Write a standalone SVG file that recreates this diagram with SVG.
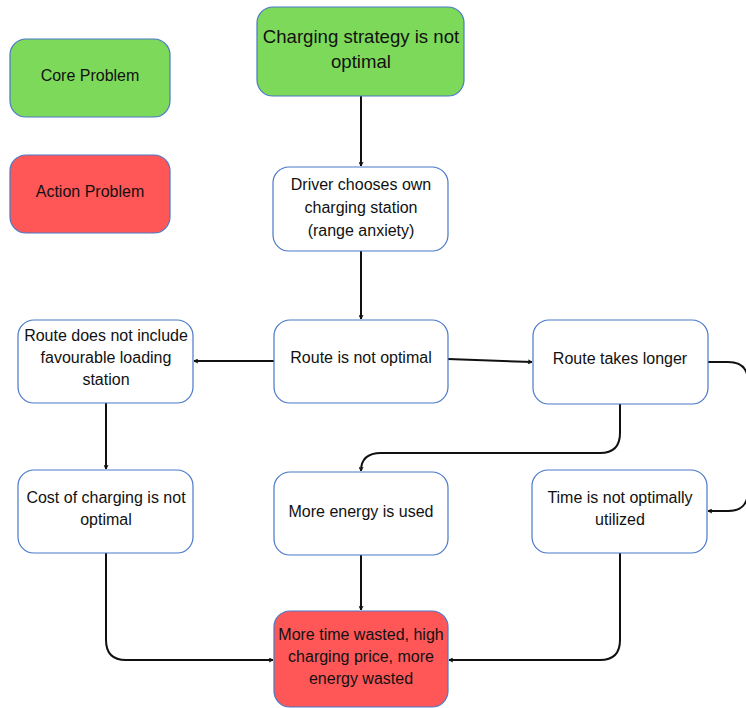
<svg xmlns="http://www.w3.org/2000/svg" width="746" height="708" viewBox="0 0 746 708">
<style>
.box{stroke:#4a78c8;stroke-width:1.2}
.w{fill:#ffffff}.g{fill:#7dd95a}.r{fill:#ff5757}
text{font-family:"Liberation Sans",Arial,sans-serif;font-size:16px;fill:#111;text-anchor:middle}
.big{font-size:18.6px}
.c{fill:none;stroke:#111;stroke-width:2}
</style>
<defs>
<marker id="a" viewBox="0 0 10 10" refX="9" refY="5" markerWidth="5" markerHeight="5" orient="auto" markerUnits="userSpaceOnUse">
<path d="M1,1 L9,5 L1,9" fill="none" stroke="#111" stroke-width="2"/>
</marker>
</defs>
<rect width="746" height="708" fill="#fff"/>
<g id="connectors">
<path class="c" d="M361,96 V166" marker-end="url(#a)"/>
<path class="c" d="M361,251 V319" marker-end="url(#a)"/>
<path class="c" d="M274,361 H194" marker-end="url(#a)"/>
<path class="c" d="M448,359 L532,362" marker-end="url(#a)"/>
<path class="c" d="M620,404 V433 Q620,453 600,453 H381 Q361,453 361,471" marker-end="url(#a)"/>
<path class="c" d="M708,362 H728 Q748,362 748,382 V491 Q748,511 728,511 H708" marker-end="url(#a)"/>
<path class="c" d="M106,403 V469" marker-end="url(#a)"/>
<path class="c" d="M361,555 V610" marker-end="url(#a)"/>
<path class="c" d="M106,553 V640 Q106,660 126,660 H273" marker-end="url(#a)"/>
<path class="c" d="M620,553 V640 Q620,660 600,660 H449" marker-end="url(#a)"/>
</g>
<g id="legend-core"><rect class="box g" x="10" y="39" width="160" height="78" rx="16"/><text x="90" y="81">Core Problem</text></g>
<g id="legend-action"><rect class="box r" x="10" y="155" width="160" height="78" rx="16"/><text x="90" y="197">Action Problem</text></g>
<g id="n-top"><rect class="box g" x="257" y="7" width="207" height="89" rx="16"/><text class="big" x="361" y="43">Charging strategy is not</text><text class="big" x="361" y="68">optimal</text></g>
<g id="n-driver"><rect class="box w" x="273" y="167" width="175" height="84" rx="16"/><text x="361" y="190">Driver chooses own</text><text x="361" y="213">charging station</text><text x="361" y="236">(range anxiety)</text></g>
<g id="n-route"><rect class="box w" x="274" y="320" width="174" height="83" rx="16"/><text x="361" y="363">Route is not optimal</text></g>
<g id="n-include"><rect class="box w" x="18" y="320" width="175" height="83" rx="16"/><text x="106" y="341">Route does not include</text><text x="106" y="363">favourable loading</text><text x="106" y="385">station</text></g>
<g id="n-longer"><rect class="box w" x="533" y="320" width="175" height="84" rx="16"/><text x="620" y="364">Route takes longer</text></g>
<g id="n-cost"><rect class="box w" x="18" y="470" width="175" height="83" rx="16"/><text x="106" y="503">Cost of charging is not</text><text x="106" y="525">optimal</text></g>
<g id="n-energy"><rect class="box w" x="274" y="472" width="174" height="83" rx="16"/><text x="361" y="517">More energy is used</text></g>
<g id="n-time"><rect class="box w" x="532" y="470" width="175" height="83" rx="16"/><text x="620" y="503">Time is not optimally</text><text x="620" y="525">utilized</text></g>
<g id="n-result"><rect class="box r" x="274" y="611" width="174" height="96" rx="16"/><text x="361" y="640">More time wasted, high</text><text x="361" y="662">charging price, more</text><text x="361" y="684">energy wasted</text></g>
</svg>
